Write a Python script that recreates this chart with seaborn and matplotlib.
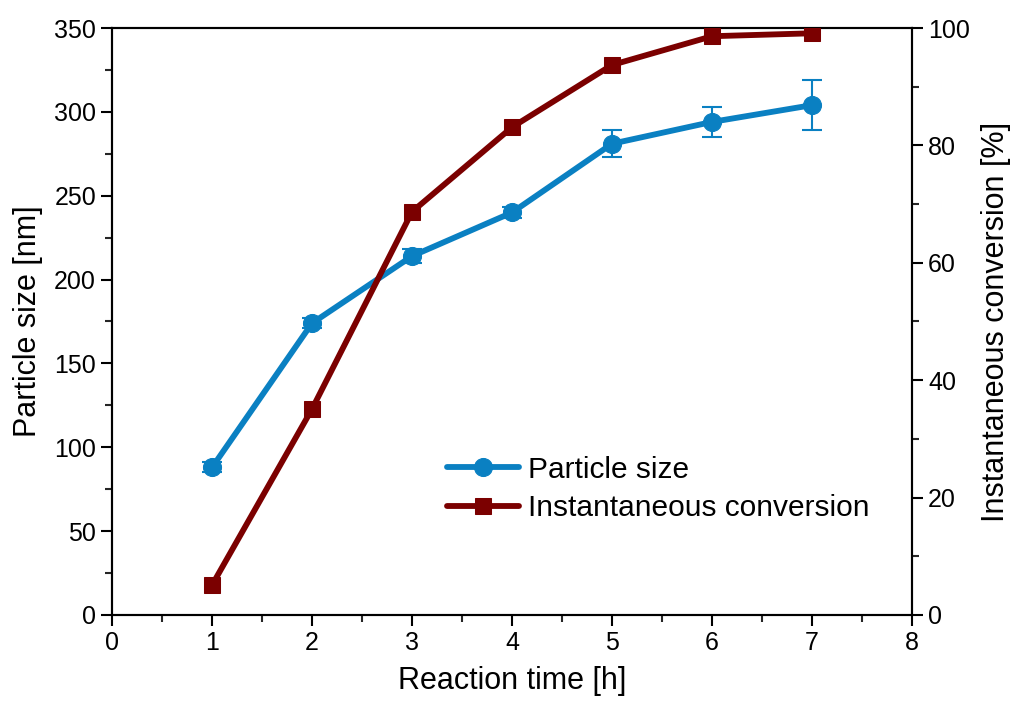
import numpy as np
import pandas as pd
import matplotlib
matplotlib.use("Agg")
import matplotlib.pyplot as plt
from matplotlib.ticker import MultipleLocator
import seaborn as sns

# Data
time_h = [1, 2, 3, 4, 5, 6, 7]
particle_size = [88, 174, 214, 240, 281, 294, 304]
particle_err = [3, 3, 4, 3, 8, 9, 15]
conversion = [5.1, 35.1, 68.7, 83.1, 93.7, 98.6, 99.1]

blue = "#0a80c2"
red = "#7b0000"

sns.set_theme(style="ticks")
plt.rcParams['font.family'] = ['Liberation Sans', 'DejaVu Sans']
plt.rcParams['text.color'] = 'black'
plt.rcParams['axes.labelcolor'] = 'black'

fig = plt.figure(figsize=(10.19, 7.09), dpi=100)
ax = fig.add_axes([0.110, 0.1326, 0.785, 0.8279])
ax2 = ax.twinx()

df = pd.DataFrame({"t": time_h, "size": particle_size, "err": particle_err, "conv": conversion})

ax.errorbar(df["t"], df["size"], yerr=df["err"], fmt="none", ecolor=blue,
            elinewidth=1.5, capsize=7, capthick=1.5, zorder=2)
sns.lineplot(data=df, x="t", y="size", ax=ax, color=blue, linewidth=4.2,
             marker="o", markersize=13, markeredgecolor=blue, label="Particle size", legend=False, zorder=3)
sns.lineplot(data=df, x="t", y="conv", ax=ax2, color=red, linewidth=4.2,
             marker="s", markersize=11, markeredgecolor=red, label="Instantaneous conversion", legend=False, zorder=3)

ax.set_xlim(0, 8)
ax.set_ylim(0, 350)
ax2.set_ylim(0, 100)
ax.xaxis.set_major_locator(MultipleLocator(1))
ax.xaxis.set_minor_locator(MultipleLocator(0.5))
ax.yaxis.set_major_locator(MultipleLocator(50))
ax.yaxis.set_minor_locator(MultipleLocator(25))
ax2.yaxis.set_major_locator(MultipleLocator(20))
ax2.yaxis.set_minor_locator(MultipleLocator(10))

ax.set_xlabel("Reaction time [h]", fontsize=22, labelpad=8, color="black")
ax.set_ylabel("Particle size [nm]", fontsize=22, labelpad=8, color="black")
ax2.set_ylabel("Instantaneous conversion [%]", fontsize=22, labelpad=8, color="black")

for a in (ax, ax2):
    a.tick_params(which="major", direction="out", length=8, width=1.5, labelsize=18, colors="black")
    a.tick_params(which="minor", direction="out", length=5, width=1.5)
    for s in a.spines.values():
        s.set_linewidth(1.5)
        s.set_color("black")
ax.tick_params(axis="y", which="both", right=False)
ax2.tick_params(axis="y", which="both", left=False)

h1, l1 = ax.get_legend_handles_labels()
h2, l2 = ax2.get_legend_handles_labels()
leg = ax.legend(h1 + h2, l1 + l2, loc="center left", bbox_to_anchor=(0.385, 0.215),
                frameon=False, fontsize=21.5, handlelength=2.4, handletextpad=0.3, labelspacing=0.35)
for t in leg.get_texts():
    t.set_color("black")

fig.savefig("out.png", dpi=100)
